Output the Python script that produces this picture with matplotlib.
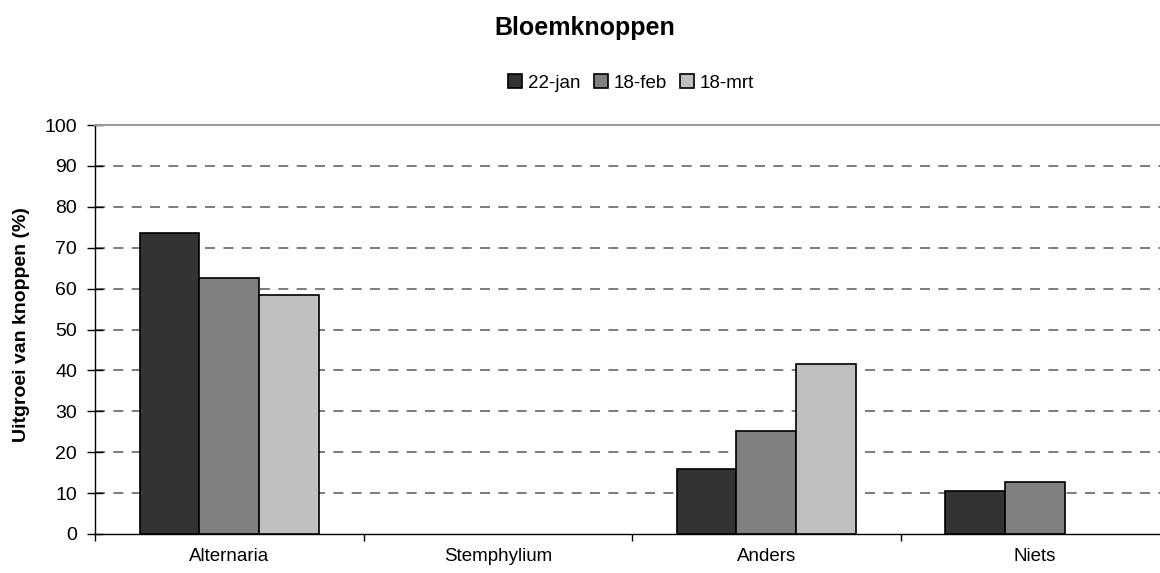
import numpy as np
import matplotlib.pyplot as plt

plt.rcParams['font.family'] = ['Liberation Sans', 'DejaVu Sans']

categories = ['Alternaria', 'Stemphylium', 'Anders', 'Niets']
dates = ['22-jan', '18-feb', '18-mrt']
jan22 = [73.6, 0, 15.9, 10.6]
feb18 = [62.5, 0, 25.1, 12.6]
mrt18 = [58.5, 0, 41.6, 0]
series = [jan22, feb18, mrt18]
colors = ['#333333', '#808080', '#c0c0c0']

fig = plt.figure(figsize=(11.6, 5.73), dpi=100)
ax = fig.add_axes([95 / 1160, 1 - 534 / 573, 1074 / 1160, 409 / 573])

x = np.arange(len(categories))
w = 1 / 4.5
for i, (vals, c, lab) in enumerate(zip(series, colors, dates)):
    # zero values get no bar (and no outline)
    h = np.array(vals, dtype=float)
    h[h == 0] = np.nan
    ax.bar(x + (i - 1) * w, h, width=w, color=c, edgecolor='black',
           linewidth=1.2, label=lab, zorder=3)

ax.set_xlim(-0.5, 3.5)
ax.set_ylim(0, 100)
ax.set_yticks(range(0, 101, 10))
for v in range(10, 100, 10):
    ax.axhline(v, color='#666666', lw=1.2, ls=(0, (6, 5)), zorder=1)

ax.set_xticks(x)
ax.set_xticklabels(categories, fontsize=13.5)
ax.set_xticks(np.arange(-0.5, 3.6, 1), minor=True)
ax.tick_params(axis='x', which='major', length=0, pad=10)
ax.tick_params(axis='x', which='minor', length=5, width=1, direction='out')
ax.tick_params(axis='y', direction='inout', length=12, width=1, labelsize=14, pad=7)

ax.spines['right'].set_visible(False)
ax.spines['top'].set_color('#999999')
ax.spines['top'].set_linewidth(1.5)
ax.spines['left'].set_linewidth(1)
ax.spines['bottom'].set_linewidth(1)

fig.text(22 / 1160, 1 - 325 / 573, 'Uitgroei van knoppen (%)', rotation=90,
         ha='center', va='center', fontsize=14, fontweight='bold')

fig.text(585 / 1160, 1 - 28 / 573, 'Bloemknoppen', ha='center', va='center',
         fontsize=18, fontweight='bold')

fig.legend(loc='center', bbox_to_anchor=(631 / 1160, 1 - 83 / 573), ncol=3,
           frameon=False, fontsize=13.5, handlelength=0.75, handleheight=0.75,
           handletextpad=0.3, columnspacing=0.7)

fig.savefig('out.png', dpi=100)
